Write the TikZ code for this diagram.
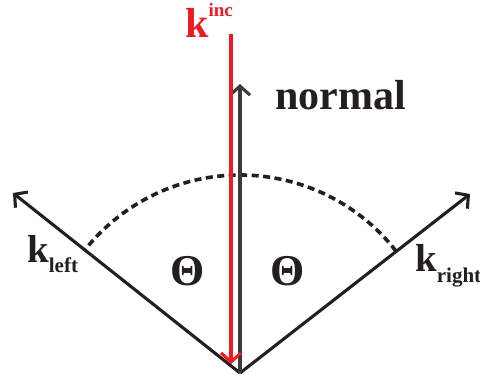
\documentclass[tikz,border=0pt]{standalone}
\usepackage{fontspec}
\setmainfont{Liberation Serif}
\usetikzlibrary{arrows.meta,calc}
\definecolor{kred}{HTML}{ED1C24}
\definecolor{kblack}{HTML}{231F20}
\definecolor{kgray}{HTML}{3A3A3A}
\tikzset{
  vec/.style={line width=3.1pt, -{Straight Barb[length=9pt,width=20pt,line width=3.1pt]}},
  lbl/.style={inner sep=0pt, anchor=base west, font=\bfseries},
}
\newcommand{\kbig}{\fontsize{39}{39}\selectfont}
\newcommand{\ksmall}{\fontsize{21}{21}\selectfont}
\begin{document}
\begin{tikzpicture}[x=1pt,y=-1pt]
\useasboundingbox (0,0) rectangle (480,381);
\coordinate (O) at (240,373);
\coordinate (Otip) at (231,364);
\coordinate (Rtop) at (231,34);
\coordinate (N) at (240,84);
\coordinate (L) at (13,193);
\coordinate (R) at (470,194);
% dashed arc (y axis points down, so angles are negated)
\draw[kblack, line width=3.6pt, dash pattern=on 7pt off 4.5pt]
  ($(O)+(-38:198)$) arc[start angle=-38, end angle=-142, radius=198];
% vectors
\draw[vec, kblack] (O) -- (L);
\draw[vec, kblack] (O) -- (R);
\draw[vec, kgray] (O) -- (N);
\draw[vec, kred] (Rtop) -- (Otip);
% labels
\node[lbl, text=kred] (kinc) at (185,37) {\fontsize{42}{42}\selectfont k\raisebox{21pt}{\fontsize{19}{19}\selectfont inc}};
\node[lbl, text=kblack] (normal) at (275,109) {\fontsize{42}{42}\selectfont normal};
\node[lbl, text=kblack] (kleft) at (27,262) {\kbig k\raisebox{-10pt}{\ksmall left}};
\node[lbl, text=kblack] (kright) at (415,271) {\kbig k\raisebox{-11pt}{\ksmall right}};
\node[inner sep=0pt, text=kblack, font=\bfseries\fontsize{44}{44}\selectfont] (th1) at (188,271) {Θ};
\node[inner sep=0pt, text=kblack, font=\bfseries\fontsize{44}{44}\selectfont] (th2) at (288,271) {Θ};
\end{tikzpicture}
\end{document}
